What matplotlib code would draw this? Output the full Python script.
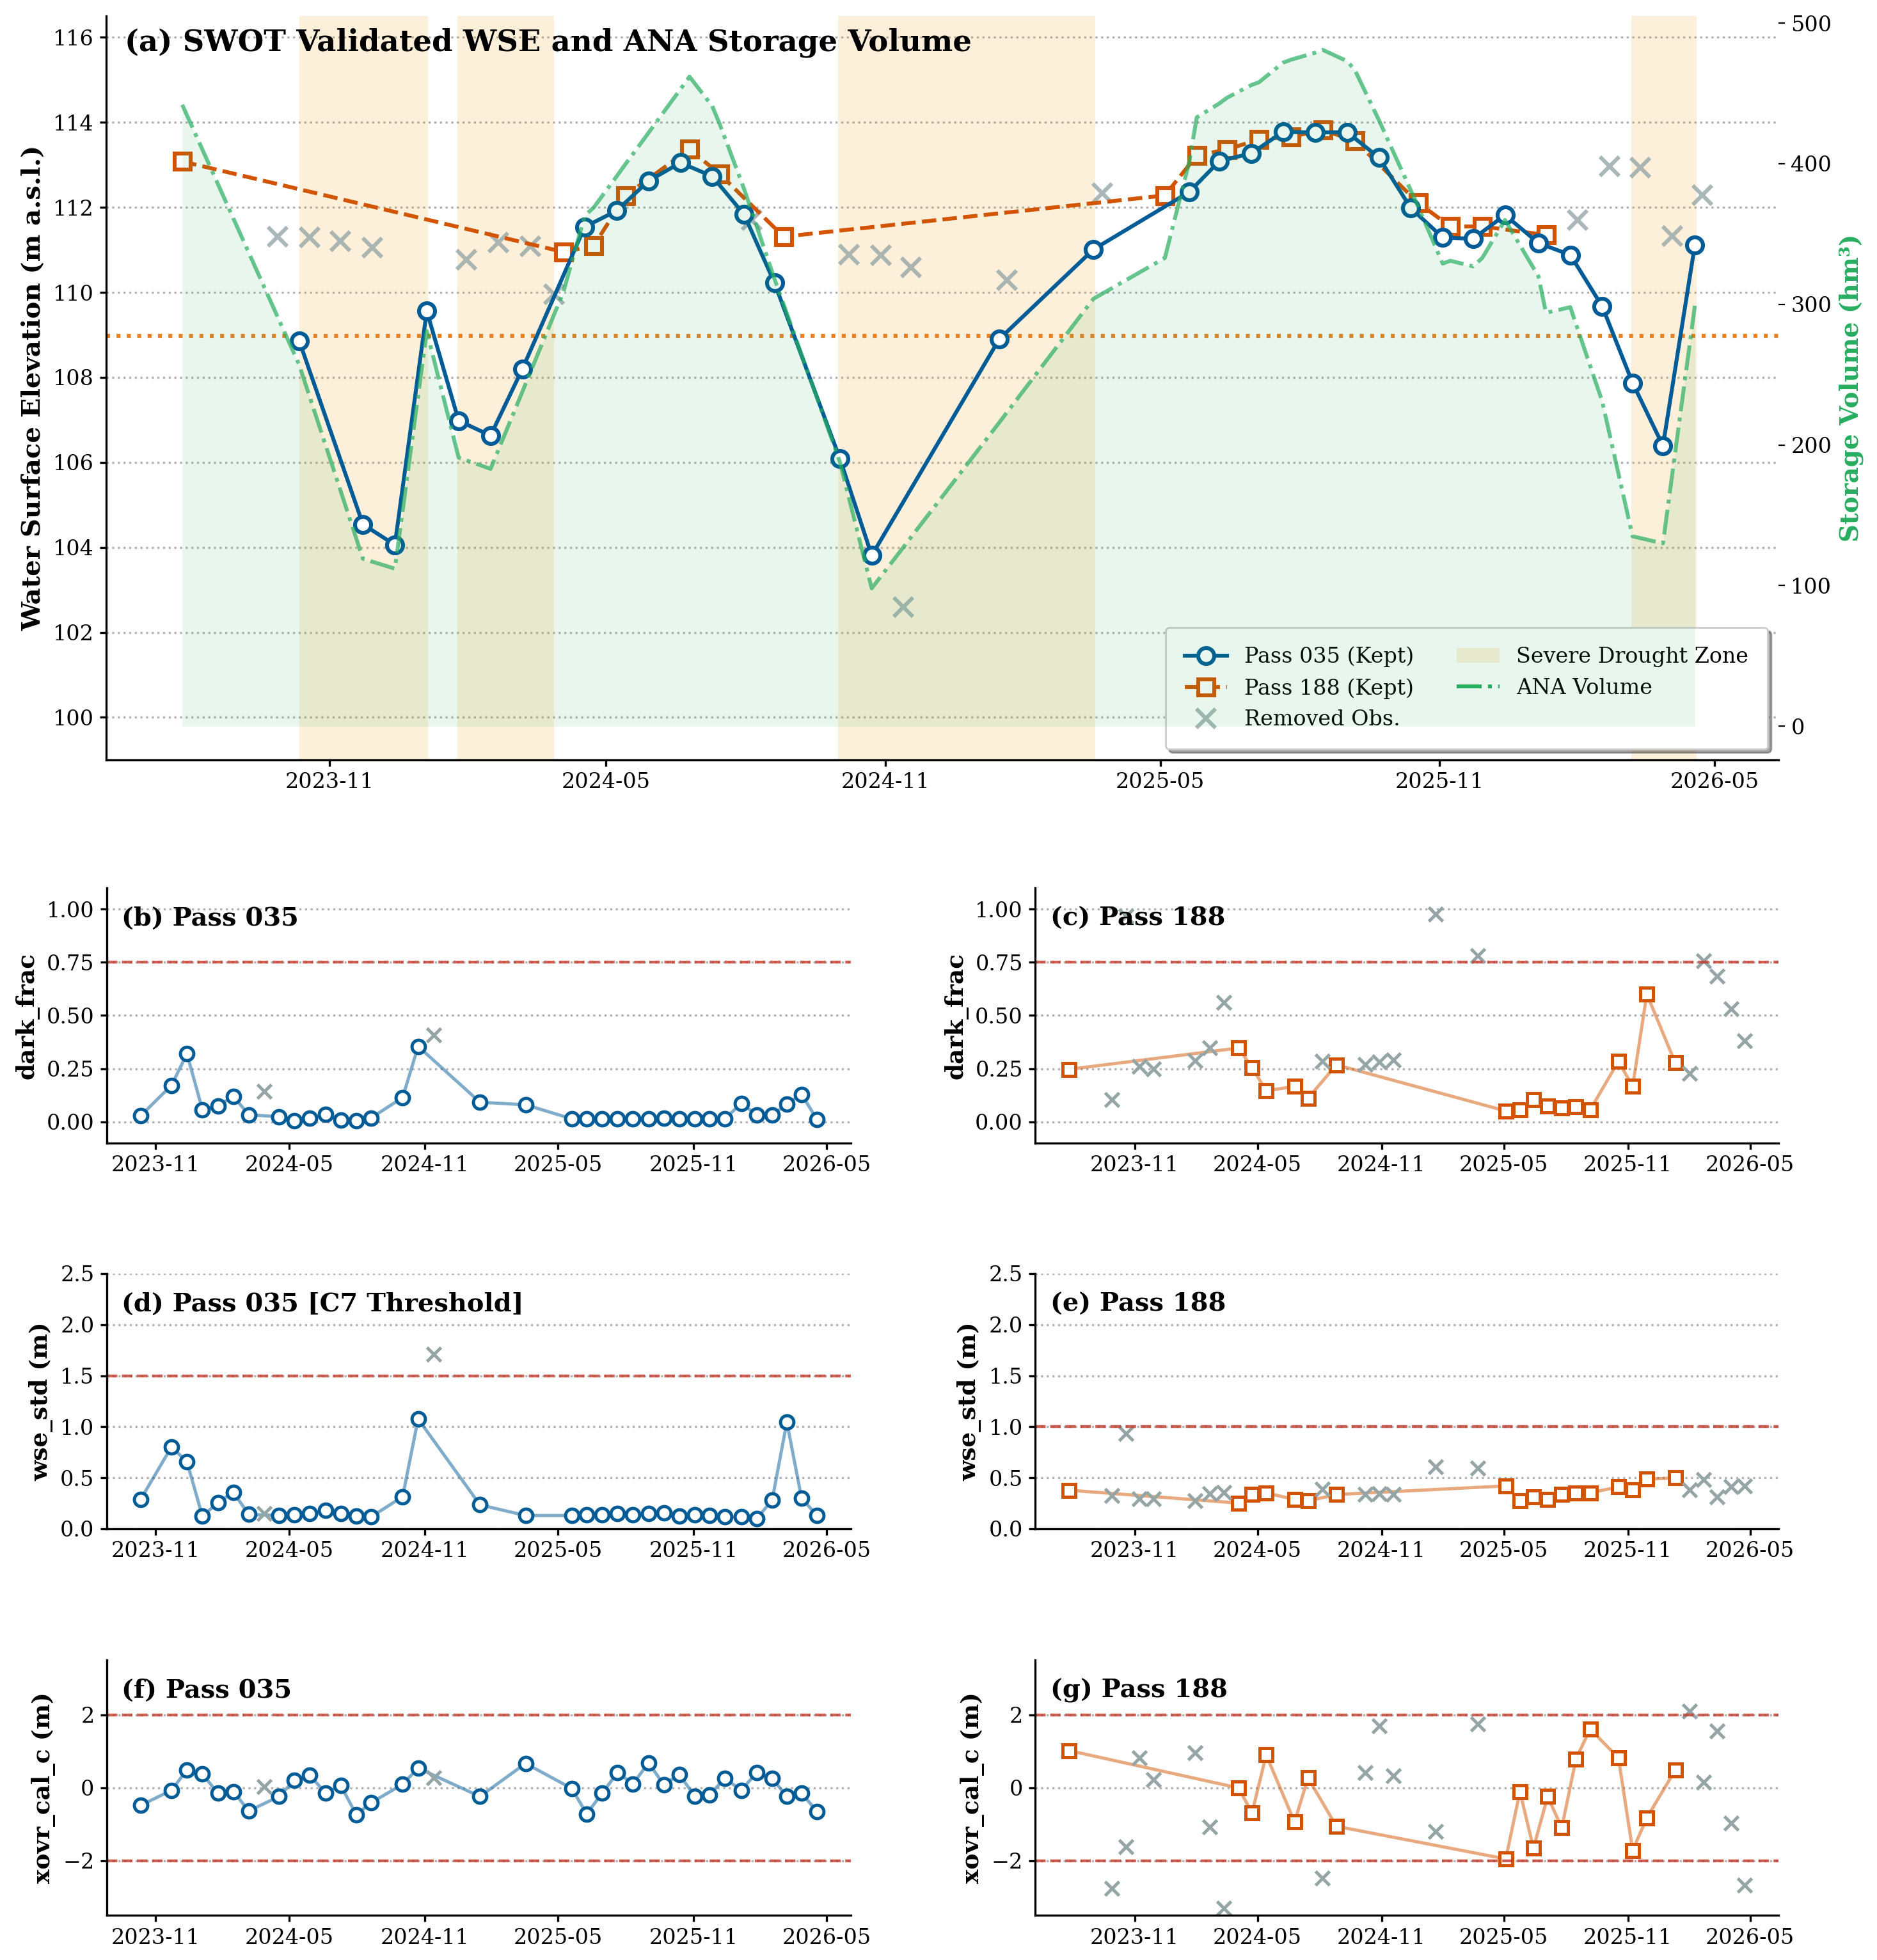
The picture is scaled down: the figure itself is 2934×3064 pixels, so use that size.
import matplotlib
matplotlib.use('Agg')
import matplotlib.pyplot as plt
import matplotlib.dates as mdates
from matplotlib.lines import Line2D
from matplotlib.patches import Patch
import pandas as pd

plt.rcParams['font.family'] = 'DejaVu Serif'

# ---- Pass 035, kept observations
p035_dates = ['2023-10-12', '2023-11-23', '2023-12-14', '2024-01-04', '2024-01-25', '2024-02-15',
              '2024-03-07', '2024-04-17', '2024-05-08', '2024-05-29', '2024-06-19', '2024-07-10',
              '2024-07-31', '2024-08-20', '2024-10-02', '2024-10-23', '2025-01-15', '2025-03-18',
              '2025-05-20', '2025-06-09', '2025-06-30', '2025-07-21', '2025-08-11', '2025-09-01',
              '2025-09-22', '2025-10-13', '2025-11-03', '2025-11-23', '2025-12-14', '2026-01-05',
              '2026-01-26', '2026-02-16', '2026-03-08', '2026-03-28', '2026-04-18']
p035_wse = [108.86, 104.54, 104.06, 109.56, 106.98, 106.63, 108.20, 111.54, 111.92, 112.62, 113.05, 112.73,
            111.83, 110.22, 106.09, 103.81, 108.90, 111.01, 112.36, 113.09, 113.27, 113.78, 113.76, 113.77,
            113.17, 111.98, 111.29, 111.26, 111.82, 111.16, 110.88, 109.67, 107.87, 106.39, 111.11]
p035_dark = [0.028, 0.172, 0.320, 0.056, 0.074, 0.120, 0.033, 0.024, 0.006, 0.018, 0.034, 0.008,
             0.006, 0.018, 0.114, 0.355, 0.092, 0.080, 0.014, 0.014, 0.014, 0.014, 0.014, 0.014,
             0.018, 0.014, 0.014, 0.014, 0.014, 0.087, 0.033, 0.031, 0.084, 0.129, 0.011]
p035_std = [0.288, 0.803, 0.655, 0.122, 0.258, 0.357, 0.141, 0.130, 0.137, 0.147, 0.183, 0.147,
            0.122, 0.116, 0.315, 1.076, 0.235, 0.130, 0.130, 0.137, 0.137, 0.147, 0.137, 0.147,
            0.158, 0.122, 0.137, 0.130, 0.116, 0.116, 0.101, 0.279, 1.046, 0.300, 0.130]
p035_xovr = [-0.485, -0.070, 0.491, 0.374, -0.152, -0.105, -0.637, -0.240, 0.211, 0.339, -0.140, 0.058,
             -0.737, -0.415, 0.094, 0.538, -0.240, 0.667, -0.023, -0.719, -0.152, 0.415, 0.105, 0.684,
             0.082, 0.363, -0.240, -0.193, 0.257, -0.070, 0.415, 0.257, -0.240, -0.152, -0.649]

# ---- Pass 035, removed observations
p035_rm_dates = ['2024-03-28', '2024-11-13']
p035_rm_wse = [109.96, 102.60]
p035_rm_dark = [0.144, 0.409]
p035_rm_std = [0.147, 1.708]
p035_rm_xovr = [0.035, 0.275]

# ---- Pass 188, kept observations
p188_dates = ['2023-07-27', '2024-04-03', '2024-04-23', '2024-05-14', '2024-06-25', '2024-07-15',
              '2024-08-26', '2025-05-04', '2025-05-25', '2025-06-14', '2025-07-05', '2025-07-26',
              '2025-08-16', '2025-09-06', '2025-10-18', '2025-11-08', '2025-11-29', '2026-01-10']
p188_wse = [113.08, 110.95, 111.10, 112.28, 113.37, 112.78, 111.31, 112.28, 113.22, 113.36, 113.60, 113.66,
            113.82, 113.57, 112.10, 111.55, 111.55, 111.35]
p188_dark = [0.247, 0.347, 0.255, 0.146, 0.166, 0.111, 0.268, 0.051, 0.056, 0.105, 0.075, 0.065,
             0.070, 0.056, 0.285, 0.166, 0.601, 0.278]
p188_std = [0.378, 0.252, 0.336, 0.351, 0.288, 0.273, 0.336, 0.420, 0.277, 0.311, 0.290, 0.336,
            0.353, 0.353, 0.410, 0.382, 0.487, 0.498]
p188_xovr = [1.018, -0.006, -0.690, 0.901, -0.942, 0.269, -1.058, -1.953, -0.105, -1.661, -0.240, -1.099,
             0.784, 1.614, 0.813, -1.719, -0.825, 0.480]

# ---- Pass 188, removed observations
p188_rm_dates = ['2023-09-28', '2023-10-19', '2023-11-08', '2023-11-29', '2024-01-30', '2024-02-20',
                 '2024-03-12', '2024-08-05', '2024-10-08', '2024-10-29', '2024-11-18', '2025-01-20',
                 '2025-03-24', '2026-01-31', '2026-02-21', '2026-03-13', '2026-04-03', '2026-04-23']
p188_rm_wse = [111.31, 111.29, 111.20, 111.05, 110.77, 111.18, 111.08, 111.70, 110.89, 110.87, 110.59, 110.28,
               112.34, 111.70, 112.96, 112.94, 111.32, 112.29]
p188_rm_dark = [0.104, 0.968, 0.260, 0.250, 0.288, 0.348, 0.563, 0.286, 0.271, 0.281, 0.291, 0.978,
                0.781, 0.228, 0.756, 0.686, 0.530, 0.382]
p188_rm_std = [0.326, 0.935, 0.294, 0.294, 0.273, 0.347, 0.357, 0.389, 0.336, 0.347, 0.336, 0.609,
               0.592, 0.382, 0.483, 0.315, 0.410, 0.420]
p188_rm_xovr = [-2.754, -1.614, 0.813, 0.228, 0.959, -1.076, -3.310, -2.474, 0.415, 1.690, 0.327, -1.193,
                1.749, 2.099, 0.158, 1.556, -0.971, -2.667]

# ---- ANA storage volume (hm3)
ana_dates = ['2023-07-27', '2023-10-12', '2023-11-23', '2023-12-14', '2024-01-04', '2024-01-25',
             '2024-02-15', '2024-03-07', '2024-04-03', '2024-04-17', '2024-04-23', '2024-05-08',
             '2024-05-14', '2024-05-29', '2024-06-19', '2024-06-25', '2024-07-10', '2024-07-15',
             '2024-07-31', '2024-08-20', '2024-08-26', '2024-10-02', '2024-10-23', '2025-01-15',
             '2025-03-18', '2025-05-04', '2025-05-20', '2025-05-25', '2025-06-09', '2025-06-14',
             '2025-06-30', '2025-07-05', '2025-07-21', '2025-07-26', '2025-08-11', '2025-08-16',
             '2025-09-01', '2025-09-06', '2025-09-22', '2025-10-13', '2025-10-18', '2025-11-03',
             '2025-11-08', '2025-11-23', '2025-11-29', '2025-12-14', '2026-01-05', '2026-01-10',
             '2026-01-26', '2026-02-16', '2026-03-08', '2026-03-28', '2026-04-18']
ana_vol = [442, 257, 119, 112, 281, 191, 183, 238, 309, 363, 369, 391,
           400, 422, 453, 462, 441, 428, 382, 318, 300, 188, 98, 216,
           304, 333, 401, 433, 443, 447, 456, 458, 472, 474, 479, 481,
           473, 467, 431, 381, 369, 329, 331, 327, 333, 360, 320, 294,
           298, 231, 135, 130, 299]

# severe drought periods
drought_start = ['2023-10-12', '2024-01-24', '2024-10-01', '2026-03-07']
drought_end = ['2024-01-05', '2024-03-28', '2025-03-19', '2026-04-19']
drought_wse = 108.97

C035 = '#005b96'
C188 = '#d35400'
CRM = '#95a5a6'
CANA = '#27ae60'
CDRY = '#f39c12'
CTHR = '#c0392b'

dt = pd.to_datetime

fig = plt.figure(figsize=(14.67, 15.32), dpi=200)

# ================= panel (a)
ax = fig.add_axes([0.0566, 0.6123, 0.8909, 0.3795])
ax2 = ax.twinx()

for s, e in zip(drought_start, drought_end):
    ax.axvspan(dt(s), dt(e), color=CDRY, alpha=0.15, lw=0)
ax.yaxis.grid(True, ls=':', color='gray', alpha=0.6, lw=1.2)
ax.set_axisbelow(True)
ax.axhline(drought_wse, color='#e67e22', ls=':', lw=2.2)
ax.plot(dt(p035_dates), p035_wse, '-o', color=C035, lw=2.2, ms=9, mfc='white', mew=2.2, zorder=4)
ax.plot(dt(p188_dates), p188_wse, '--s', color=C188, lw=2.2, ms=9, mfc='white', mew=2.2, zorder=3)
ax.plot(dt(p035_rm_dates + p188_rm_dates), p035_rm_wse + p188_rm_wse, 'x', ls='none',
        color=CRM, ms=11, mew=2.2, alpha=0.8, zorder=2)

ax2.fill_between(dt(ana_dates), 0, ana_vol, color=CANA, alpha=0.1, lw=0)
ax2.plot(dt(ana_dates), ana_vol, '-.', color=CANA, lw=2.2, alpha=0.7)

ax.set_ylim(99, 116.5)
ax.set_yticks(range(100, 117, 2))
ax.set_ylabel('Water Surface Elevation (m a.s.l.)', fontsize=14.5, fontweight='bold')
ax2.set_ylabel('Storage Volume (hm³)', fontsize=14, fontweight='bold', color=CANA)
ax.text(0.011, 0.964, '(a) SWOT Validated WSE and ANA Storage Volume', transform=ax.transAxes,
        fontsize=16.8, fontweight='bold', va='center', ha='left')

for sp in ['top', 'right']:
    ax.spines[sp].set_visible(False)
for sp in ax2.spines.values():
    sp.set_visible(False)
for sp in ['left', 'bottom']:
    ax.spines[sp].set_linewidth(1.2)
ax.tick_params(labelsize=12, width=1.2)
ax2.tick_params(labelsize=12)
ax.xaxis.set_major_locator(mdates.MonthLocator(bymonth=[5, 11]))
ax.xaxis.set_major_formatter(mdates.DateFormatter('%Y-%m'))

handles = [
    Line2D([], [], color=C035, marker='o', lw=2.2, ms=9, mfc='white', mew=2.2, label='Pass 035 (Kept)'),
    Line2D([], [], color=C188, marker='s', ls='--', lw=2.2, ms=9, mfc='white', mew=2.2, label='Pass 188 (Kept)'),
    Line2D([], [], color=CRM, marker='x', ls='none', ms=11, mew=2.2, alpha=0.8, label='Removed Obs.'),
    Patch(facecolor=CDRY, alpha=0.15, label='Severe Drought Zone'),
    Line2D([], [], color=CANA, ls='-.', lw=2.2, label='ANA Volume'),
]
ax.legend(handles=handles, loc='lower right', ncol=2, fontsize=12, shadow=True, framealpha=1,
          borderpad=0.9, columnspacing=2.0)


# ================= lower panels
def lower(rect, d_keep, v_keep, d_rm, v_rm, color, marker, thr, ylim, yticks, ylabel, title):
    a = fig.add_axes(rect)
    a.yaxis.grid(True, ls=':', color='gray', alpha=0.6, lw=1.2)
    a.set_axisbelow(True)
    a.plot(dt(d_keep), v_keep, '-', color=color, lw=1.8, alpha=0.5)
    a.plot(dt(d_keep), v_keep, marker, ls='none', color=color, mfc='white', mew=1.8, ms=7.5)
    a.plot(dt(d_rm), v_rm, 'x', ls='none', color=CRM, ms=8, mew=1.8)
    for t in thr:
        a.axhline(t, color=CTHR, ls='--', lw=1.6, alpha=0.8)
    a.set_ylim(*ylim)
    a.set_yticks(yticks)
    a.set_ylabel(ylabel, fontsize=13.5, fontweight='bold')
    a.text(0.02, 0.88, title, transform=a.transAxes, fontsize=14.4, fontweight='bold', va='center')
    for sp in ['top', 'right']:
        a.spines[sp].set_visible(False)
    for sp in ['left', 'bottom']:
        a.spines[sp].set_linewidth(1.2)
    a.tick_params(labelsize=12, width=1.2)
    a.xaxis.set_major_locator(mdates.MonthLocator(bymonth=[5, 11]))
    a.xaxis.set_major_formatter(mdates.DateFormatter('%Y-%m'))
    return a


left_x, left_w = 0.0569, 0.3964
right_x, right_w = 0.5516, 0.3959
h = 0.1302

lower([left_x, 0.4168, left_w, h], p035_dates, p035_dark, p035_rm_dates, p035_rm_dark, C035, 'o',
      [0.75], (-0.1, 1.1), [0, 0.25, 0.5, 0.75, 1.0], 'dark_frac', '(b) Pass 035')
lower([right_x, 0.4168, right_w, h], p188_dates, p188_dark, p188_rm_dates, p188_rm_dark, C188, 's',
      [0.75], (-0.1, 1.1), [0, 0.25, 0.5, 0.75, 1.0], 'dark_frac', '(c) Pass 188')
lower([left_x, 0.2200, left_w, h], p035_dates, p035_std, p035_rm_dates, p035_rm_std, C035, 'o',
      [1.5], (0, 2.5), [0, 0.5, 1.0, 1.5, 2.0, 2.5], 'wse_std (m)', '(d) Pass 035 [C7 Threshold]')
lower([right_x, 0.2200, right_w, h], p188_dates, p188_std, p188_rm_dates, p188_rm_std, C188, 's',
      [1.0], (0, 2.5), [0, 0.5, 1.0, 1.5, 2.0, 2.5], 'wse_std (m)', '(e) Pass 188')
lower([left_x, 0.0228, left_w, h], p035_dates, p035_xovr, p035_rm_dates, p035_rm_xovr, C035, 'o',
      [2, -2], (-3.5, 3.5), [-2, 0, 2], 'xovr_cal_c (m)', '(f) Pass 035')
lower([right_x, 0.0228, right_w, h], p188_dates, p188_xovr, p188_rm_dates, p188_rm_xovr, C188, 's',
      [2, -2], (-3.5, 3.5), [-2, 0, 2], 'xovr_cal_c (m)', '(g) Pass 188')

fig.savefig('out.png', dpi=200)
